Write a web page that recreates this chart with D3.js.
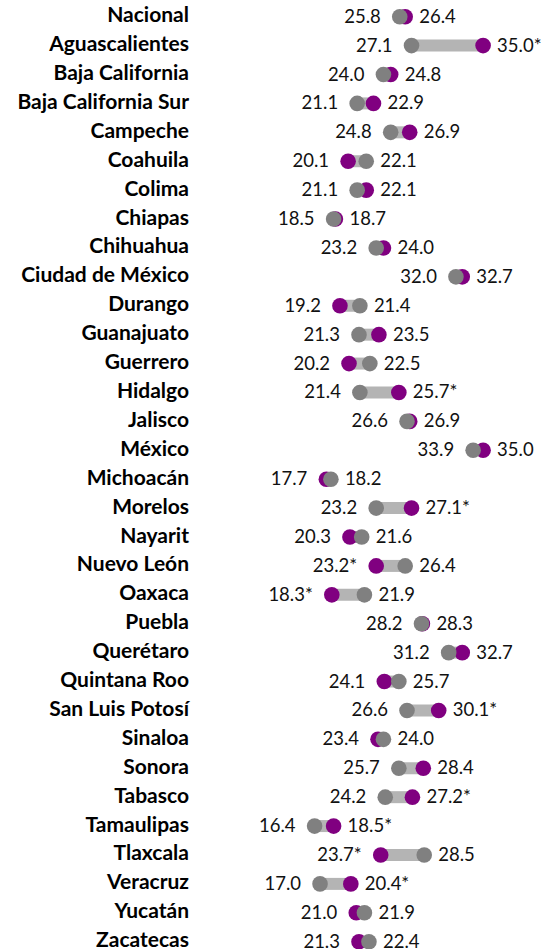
<!DOCTYPE html>
<html>
<head>
<meta charset="utf-8">
<script src="https://cdn.jsdelivr.net/npm/d3@7"></script>
<style>
  html, body { margin: 0; padding: 0; background: #fff; }
  svg { display: block; }
</style>
</head>
<body>
<svg id="chart" width="541" height="949"></svg>
<script>
const categories = ["Nacional","Aguascalientes","Baja California","Baja California Sur","Campeche","Coahuila","Colima","Chiapas","Chihuahua","Ciudad de México","Durango","Guanajuato","Guerrero","Hidalgo","Jalisco","México","Michoacán","Morelos","Nayarit","Nuevo León","Oaxaca","Puebla","Querétaro","Quintana Roo","San Luis Potosí","Sinaloa","Sonora","Tabasco","Tamaulipas","Tlaxcala","Veracruz","Yucatán","Zacatecas"];
// gray series (earlier measurement)
const grayValues = [25.8,27.1,24.0,21.1,24.8,22.1,21.1,18.5,23.2,32.0,21.4,21.3,22.5,21.4,26.6,33.9,18.2,23.2,21.6,26.4,21.9,28.2,31.2,25.7,26.6,24.0,25.7,24.2,16.4,28.5,17.0,21.9,22.4];
// purple series (later measurement)
const purpleValues = [26.4,35.0,24.8,22.9,26.9,20.1,22.1,18.7,24.0,32.7,19.2,23.5,20.2,25.7,26.9,35.0,17.7,27.1,20.3,23.2,18.3,28.3,32.7,24.1,30.1,23.4,28.4,27.2,18.5,23.7,20.4,21.0,21.3];
// statistically significant change (asterisk on purple value)
const significant = [0,1,0,0,0,0,0,0,0,0,0,0,0,1,0,0,0,1,0,1,1,0,0,0,1,0,0,1,1,1,1,0,0];

const rows = categories.map((c, i) => ({
  cat: c, g: grayValues[i], p: purpleValues[i], sig: !!significant[i]
}));

const svg = d3.select("#chart");
const x = d3.scaleLinear().domain([15, 35]).range([301.9, 483.1]);
const y = d3.scalePoint().domain(categories).range([16.7, 941.7]);

const GRAY = "#808080", PURPLE = "#800080", BAR = "#b4b4b4";
const R = 7.8;

const g = svg.append("g");

// category labels
g.selectAll("text.cat").data(rows).join("text")
  .attr("class", "cat")
  .attr("x", 189)
  .attr("y", d => y(d.cat) + 5.5)
  .attr("text-anchor", "end")
  .style("font-family", "Lato, 'Open Sans', sans-serif")
  .style("font-weight", "700")
  .style("font-size", "21px")
  .attr("fill", "#000")
  .text(d => d.cat);

// connecting bars
g.selectAll("line.bar").data(rows).join("line")
  .attr("class", "bar")
  .attr("x1", d => x(d.g)).attr("x2", d => x(d.p))
  .attr("y1", d => y(d.cat)).attr("y2", d => y(d.cat))
  .attr("stroke", BAR).attr("stroke-width", 12);

// purple dots
g.selectAll("circle.p").data(rows).join("circle")
  .attr("class", "p")
  .attr("cx", d => x(d.p)).attr("cy", d => y(d.cat)).attr("r", R)
  .attr("fill", PURPLE);

// gray dots on top
g.selectAll("circle.g").data(rows).join("circle")
  .attr("class", "g")
  .attr("cx", d => x(d.g)).attr("cy", d => y(d.cat)).attr("r", R)
  .attr("fill", GRAY);

const fmt = d3.format(".1f");
const valueStyle = sel => sel
  .style("font-family", "Lato, 'Open Sans', sans-serif")
  .style("font-size", "18.5px")
  .attr("fill", "#111");

// left (minimum) labels
g.selectAll("text.lv").data(rows).join("text")
  .attr("class", "lv")
  .attr("x", d => x(Math.min(d.g, d.p)) - 19)
  .attr("y", d => y(d.cat) + 6)
  .attr("text-anchor", "end")
  .call(valueStyle)
  .text(d => {
    const purpleIsLeft = d.p < d.g;
    const v = Math.min(d.g, d.p);
    return fmt(v) + (purpleIsLeft && d.sig ? "*" : "");
  });

// right (maximum) labels
g.selectAll("text.rv").data(rows).join("text")
  .attr("class", "rv")
  .attr("x", d => x(Math.max(d.g, d.p)) + 14)
  .attr("y", d => y(d.cat) + 6)
  .attr("text-anchor", "start")
  .call(valueStyle)
  .text(d => {
    const purpleIsRight = d.p >= d.g;
    const v = Math.max(d.g, d.p);
    return fmt(v) + (purpleIsRight && d.sig ? "*" : "");
  });
</script>
</body>
</html>
